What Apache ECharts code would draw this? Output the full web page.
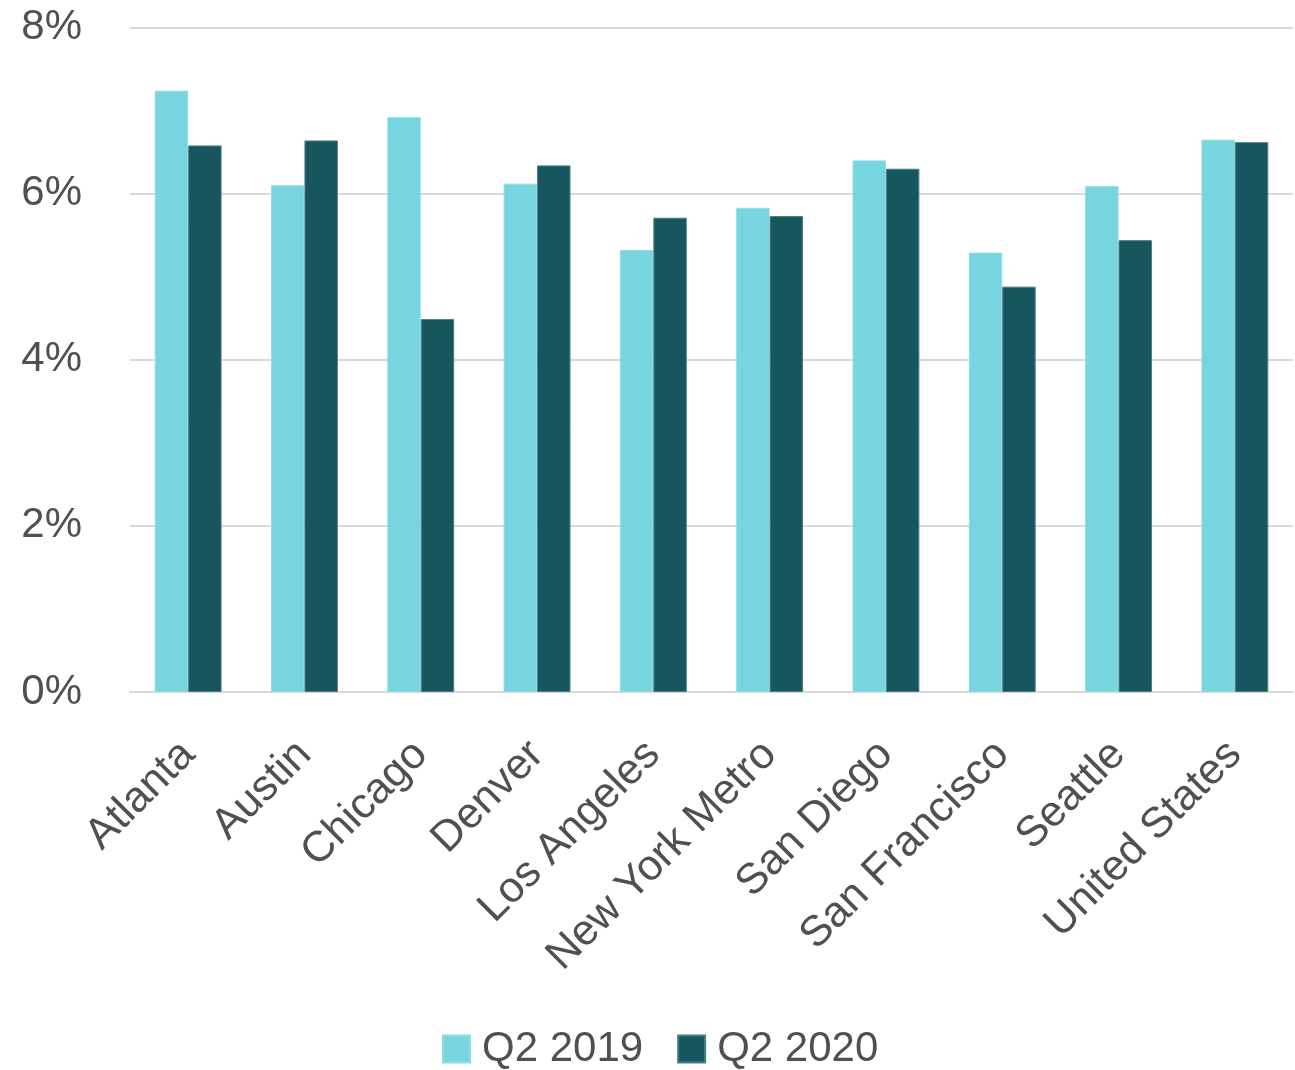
<!DOCTYPE html>
<html>
<head>
<meta charset="utf-8">
<script src="https://cdn.jsdelivr.net/npm/echarts@6/dist/echarts.min.js"></script>
<style>
html,body{margin:0;padding:0;background:#fff;}
#chart{width:1295px;height:1070px;}
</style>
</head>
<body>
<div id="chart"></div>
<script>
const categories = ['Atlanta','Austin','Chicago','Denver','Los Angeles','New York Metro','San Diego','San Francisco','Seattle','United States'];
const seriesNames = ['Q2 2019','Q2 2020'];
const q2019 = [7.24, 6.10, 6.92, 6.12, 5.32, 5.83, 6.40, 5.29, 6.09, 6.65];
const q2020 = [6.58, 6.64, 4.49, 6.34, 5.71, 5.73, 6.30, 4.88, 5.44, 6.62];
const yTicks = [0, 2, 4, 6, 8];

const FONT = '"Liberation Sans Narrow","Arial Narrow","Liberation Sans",Arial,sans-serif';
const TXT = '#505050';

const chart = echarts.init(document.getElementById('chart'));
chart.setOption({
  animation: false,
  backgroundColor: '#ffffff',
  textStyle: { fontFamily: FONT },
  grid: { left: 130, right: 2, top: 27.5, bottom: 378, containLabel: false },
  legend: {
    data: seriesNames,
    top: 1023,
    left: 437,
    itemWidth: 27,
    itemHeight: 27,
    itemGap: 34,
    icon: 'rect',
    textStyle: { fontSize: 42, color: TXT, fontFamily: FONT, padding: [0, 0, 0, 7] }
  },
  xAxis: {
    type: 'category',
    data: categories,
    axisTick: { show: false },
    axisLine: { show: true, lineStyle: { color: '#d9d9d9', width: 2 } },
    axisLabel: { rotate: 45, interval: 0, fontSize: 43, color: TXT, fontFamily: FONT, margin: 56 }
  },
  yAxis: {
    type: 'value',
    min: yTicks[0],
    max: yTicks[yTicks.length - 1],
    interval: 2,
    axisLine: { show: false },
    axisTick: { show: false },
    splitLine: { lineStyle: { color: '#d9d9d9', width: 2 } },
    axisLabel: { formatter: v => v + '%', fontSize: 42, color: TXT, fontFamily: FONT, margin: 48 }
  },
  series: [
    { name: seriesNames[0], type: 'bar', data: q2019, barGap: '0%', barCategoryGap: '42.5%',
      itemStyle: { color: '#77D5DF', borderColor: '#8ddde6', borderWidth: 1 } },
    { name: seriesNames[1], type: 'bar', data: q2020, barGap: '0%', barCategoryGap: '42.5%',
      itemStyle: { color: '#17565E', borderColor: '#4a7d83', borderWidth: 1 } }
  ]
});
</script>
</body>
</html>
